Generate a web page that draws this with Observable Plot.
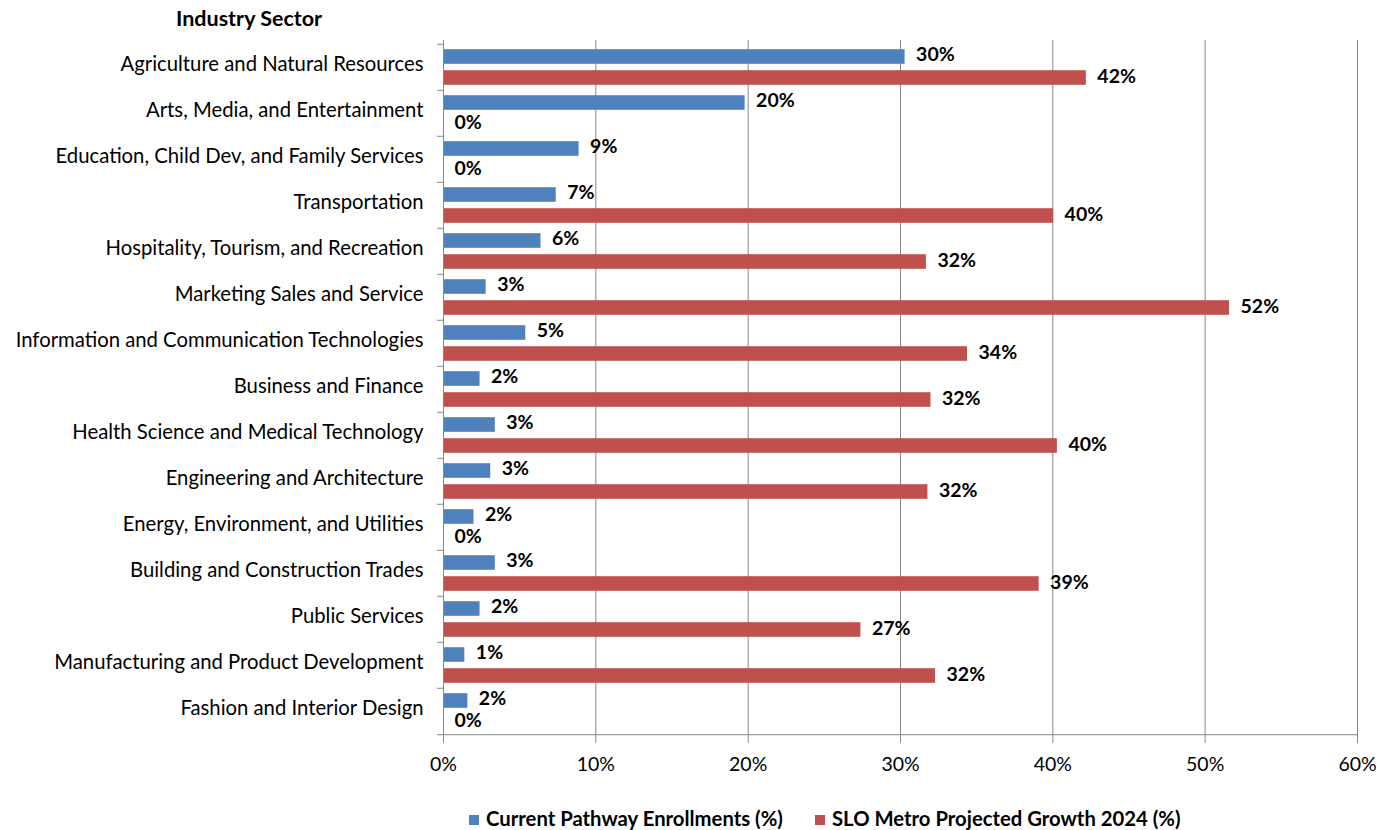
<!DOCTYPE html>
<html>
<head>
<meta charset="utf-8">
<script src="https://cdn.jsdelivr.net/npm/d3@7"></script>
<script src="https://cdn.jsdelivr.net/npm/@observablehq/plot@0.6"></script>
<style>
  html, body { margin: 0; padding: 0; background: #fff; }
  #wrap { position: relative; width: 1379px; height: 830px; font-family: Lato, "Open Sans", sans-serif; color: #000; }
  #title { position: absolute; left: 176px; top: 5px; font-weight: bold; font-size: 21.5px; line-height: 26px; }
  #chart { position: absolute; left: 0; top: 0; }
  #legend { position: absolute; top: 806px; left: 0; width: 1379px; font-weight: bold; font-size: 20.3px; line-height: 24px; }
  .item { position: absolute; top: 0; white-space: nowrap; }
  .sw { display: inline-block; width: 10px; height: 10px; margin-right: 7px; vertical-align: 1px; }
</style>
</head>
<body>
<div id="wrap">
  <div id="chart"></div>
  <div id="title">Industry Sector</div>
  <div id="legend"></div>
</div>
<script>
const categories = [
  "Agriculture and Natural Resources",
  "Arts, Media, and Entertainment",
  "Education, Child Dev, and Family Services",
  "Transportation",
  "Hospitality, Tourism, and Recreation",
  "Marketing Sales and Service",
  "Information and Communication Technologies",
  "Business and Finance",
  "Health Science and Medical Technology",
  "Engineering and Architecture",
  "Energy, Environment, and Utilities",
  "Building and Construction Trades",
  "Public Services",
  "Manufacturing and Product Development",
  "Fashion and Interior Design"
];
const enrollments = [30.3, 19.8, 8.9, 7.4, 6.4, 2.8, 5.4, 2.4, 3.4, 3.1, 2.0, 3.4, 2.4, 1.4, 1.6];
const growth = [42.2, 0, 0, 40.05, 31.7, 51.6, 34.4, 32.0, 40.3, 31.8, 0, 39.1, 27.4, 32.3, 0];
const seriesNames = ["Current Pathway Enrollments (%)", "SLO Metro Projected Growth 2024 (%)"];
const seriesColors = ["#4F81BD", "#C0504D"];
const xTicks = [0, 10, 20, 30, 40, 50, 60];

const W = 1379, H = 780, mT = 40, mB = 43, mL = 443, mR = 22;
const band = (H - mT - mB) / categories.length;
const barH = band * 0.324, gapTop = band * 0.112;
const gridColor = "#878787";

const blue = categories.map((c, i) => ({cat: c, v: enrollments[i]}));
const red = categories.map((c, i) => ({cat: c, v: growth[i]}));
const lab = d => Math.round(d.v) + "%";
const off = band / 2 - gapTop - barH / 2;

const chart = Plot.plot({
  width: W, height: H,
  marginTop: mT, marginBottom: mB, marginLeft: mL, marginRight: mR,
  style: {fontFamily: "Lato, 'Open Sans', sans-serif", fontSize: "20px", color: "#000", background: "#fff"},
  x: {domain: [0, 60]},
  y: {domain: categories, padding: 0},
  marks: [
    Plot.gridX(xTicks.slice(1), {stroke: gridColor, strokeOpacity: 1}),
    Plot.barX(blue, {x: "v", y: "cat", fill: seriesColors[0], insetTop: gapTop, insetBottom: band - gapTop - barH}),
    Plot.barX(red, {x: "v", y: "cat", fill: seriesColors[1], insetTop: band - gapTop - barH, insetBottom: gapTop}),
    Plot.text(blue, {x: "v", y: "cat", text: lab, dy: -off - 2, dx: 11, textAnchor: "start", fontWeight: "bold", fontSize: 19.5}),
    Plot.text(red, {x: "v", y: "cat", text: lab, dy: off - 1.5, dx: 11, textAnchor: "start", fontWeight: "bold", fontSize: 19.5}),
    Plot.ruleX([0], {stroke: gridColor}),
    Plot.ruleY([categories[categories.length - 1]], {x1: 0, x2: 60, dy: band / 2, stroke: gridColor}),
    Plot.axisY({text: null, tickSize: 6, dy: -band / 2, stroke: gridColor, label: null}),
    Plot.axisY({ticks: [categories[categories.length - 1]], text: null, tickSize: 6, dy: band / 2, stroke: gridColor, label: null}),
    Plot.axisY({tickSize: 0, tickPadding: 20, label: null, fontSize: 20.3, dy: -3}),
    Plot.axisX({ticks: xTicks, tickFormat: d => d + "%", tickSize: 6, tickPadding: 14, stroke: gridColor, label: null, fontSize: 19.5})
  ]
});
document.getElementById("chart").appendChild(chart);

const legend = document.getElementById("legend");
const lefts = [469, 815];
seriesNames.forEach((n, i) => {
  const it = document.createElement("div");
  it.className = "item";
  it.style.left = lefts[i] + "px";
  it.innerHTML = `<span class="sw" style="background:${seriesColors[i]}"></span>${n}`;
  legend.appendChild(it);
});
</script>
</body>
</html>
